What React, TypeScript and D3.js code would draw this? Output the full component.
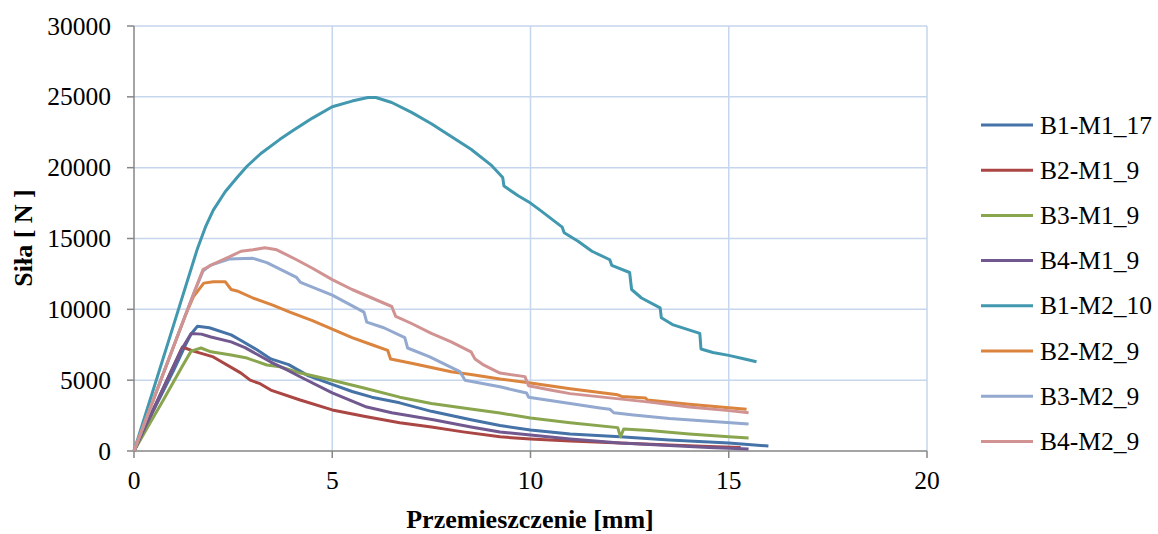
import React from "react";
import * as d3 from "d3";

type Pt = [number, number];

const seriesNames = ["B1-M1_17", "B2-M1_9", "B3-M1_9", "B4-M1_9", "B1-M2_10", "B2-M2_9", "B3-M2_9", "B4-M2_9"];
const seriesColors = ["#4572A7", "#AA4643", "#89A54E", "#71588F", "#4198AF", "#DB843D", "#93A9CF", "#D19392"];

const b1m1_17: Pt[] = [[0,0],[0.5,2900],[1.0,5700],[1.3,7500],[1.45,8300],[1.6,8800],[1.9,8700],[2.45,8200],[2.7,7800],[3.1,7150],[3.45,6500],[3.9,6100],[4.4,5300],[5.0,4700],[5.5,4200],[6.0,3800],[6.7,3400],[7.5,2800],[8.5,2200],[9.23,1800],[10,1480],[11,1200],[12.26,1000],[13.5,780],[15,560],[16,350]];
const b2m1_9: Pt[] = [[0,0],[0.5,3000],[1.0,6000],[1.22,7340],[1.5,7050],[2.0,6640],[2.7,5500],[2.93,5000],[3.18,4750],[3.45,4300],[4.19,3600],[5.0,2900],[5.8,2450],[6.7,2000],[7.5,1700],[8.3,1350],[9.23,1000],[10,850],[11,700],[12.26,560],[13.5,420],[14.5,320],[15.3,250]];
const b3m1_9: Pt[] = [[0,0],[0.4,1950],[0.74,3600],[1.2,5900],[1.44,7050],[1.69,7270],[1.94,7000],[2.45,6780],[2.85,6560],[3.35,6070],[3.68,5950],[4.2,5500],[5.0,5000],[5.8,4450],[6.7,3800],[7.5,3350],[8.4,3000],[9.23,2680],[10,2330],[11,2000],[12.2,1650],[12.27,1000],[12.35,1550],[13,1450],[14,1200],[15,1000],[15.5,920]];
const b4m1_9: Pt[] = [[0,0],[0.5,3000],[1.0,6000],[1.19,7130],[1.44,8300],[1.7,8250],[1.94,8050],[2.45,7700],[2.8,7300],[3.45,6280],[3.86,5720],[4.19,5240],[5.0,4100],[5.87,3100],[6.5,2700],[7.55,2200],[8.5,1700],[9.23,1340],[10,1130],[11,850],[12.26,560],[13.5,380],[14.5,250],[15.5,140]];
const b1m2_10: Pt[] = [[0,0],[0.5,4450],[1.0,8900],[1.59,14200],[1.8,15800],[2.0,17000],[2.3,18300],[2.6,19300],[2.85,20100],[3.2,21000],[3.68,22000],[4.0,22600],[4.5,23500],[5.0,24300],[5.5,24700],[5.9,24950],[6.1,24950],[6.5,24600],[7.0,23900],[7.5,23100],[8.0,22200],[8.5,21300],[9.0,20200],[9.3,19300],[9.33,18700],[9.7,18000],[10.0,17500],[10.24,17000],[10.8,15800],[10.85,15400],[11.2,14800],[11.55,14100],[12.0,13500],[12.05,13100],[12.5,12600],[12.55,11400],[12.8,10800],[13.27,10100],[13.3,9400],[13.6,8900],[14.27,8300],[14.3,7200],[14.6,6950],[15.0,6750],[15.4,6500],[15.7,6300]];
const b2m2_9: Pt[] = [[0,0],[0.5,3700],[1.0,7400],[1.3,9600],[1.5,10900],[1.76,11850],[2.0,11950],[2.3,11950],[2.45,11400],[2.6,11300],[3.0,10800],[3.5,10300],[3.93,9800],[4.5,9200],[5.0,8600],[5.5,8000],[6.0,7500],[6.4,7100],[6.47,6500],[7.0,6200],[7.5,5900],[8.0,5600],[8.5,5400],[9.23,5080],[10,4800],[11,4400],[12.2,3970],[12.3,3850],[12.9,3740],[12.95,3600],[14,3300],[15,3050],[15.45,2950]];
const b3m2_9: Pt[] = [[0,0],[0.5,3700],[1.0,7400],[1.51,11150],[1.74,12700],[1.92,13100],[2.4,13550],[3.0,13600],[3.35,13300],[4.1,12250],[4.2,11900],[5.0,11000],[5.8,9800],[5.87,9100],[6.3,8700],[6.83,8000],[6.9,7270],[7.46,6640],[8.0,5900],[8.22,5600],[8.35,5000],[9.23,4530],[9.9,4100],[9.95,3800],[11,3350],[11.75,3040],[12.0,2950],[12.1,2700],[12.6,2540],[13.5,2300],[14.5,2100],[15.5,1900]];
const b4m2_9: Pt[] = [[0,0],[0.5,3700],[1.0,7400],[1.51,11150],[1.74,12800],[2.0,13200],[2.4,13700],[2.7,14100],[3.0,14200],[3.3,14350],[3.6,14200],[4.1,13500],[4.5,12900],[5.0,12100],[5.5,11400],[6.0,10800],[6.5,10200],[6.6,9500],[7.0,9000],[7.5,8300],[8.0,7700],[8.5,7000],[8.6,6500],[8.8,6100],[9.23,5500],[9.86,5250],[9.95,4600],[10.5,4300],[11,4050],[12,3750],[13,3450],[14,3100],[15,2850],[15.5,2700]];

const seriesData: Pt[][] = [b1m1_17, b2m1_9, b3m1_9, b4m1_9, b1m2_10, b2m2_9, b3m2_9, b4m2_9];

const xTicks = [0, 5, 10, 15, 20];
const yTicks = [0, 5000, 10000, 15000, 20000, 25000, 30000];

const W = 1158, H = 534;
const L = 134, R = 927, T = 26, B = 451;

export default function App() {
  const x = d3.scaleLinear().domain([0, 20]).range([L, R]);
  const y = d3.scaleLinear().domain([0, 30000]).range([B, T]);
  const line = d3.line<Pt>().x(d => x(d[0])).y(d => y(d[1]));
  const font = "'Liberation Serif', 'Times New Roman', serif";
  return (
    <svg width={W} height={H} style={{ position: "absolute", left: 0, top: 0, background: "#fff" }} fontFamily={font}>
      <rect x={0} y={0} width={W} height={H} fill="#fff" />
      {yTicks.filter(t => t > 0).map(t => (
        <line key={"gy" + t} x1={L} x2={R} y1={y(t)} y2={y(t)} stroke="#c6d6ec" strokeWidth={1.5} />
      ))}
      {xTicks.filter(t => t > 0).map(t => (
        <line key={"gx" + t} x1={x(t)} x2={x(t)} y1={T} y2={B} stroke="#c6d6ec" strokeWidth={1.5} />
      ))}
      <line x1={L} x2={L} y1={T} y2={B} stroke="#868686" strokeWidth={1.5} />
      <line x1={L} x2={R} y1={B} y2={B} stroke="#868686" strokeWidth={1.5} />
      {yTicks.map(t => (
        <g key={"ty" + t}>
          <line x1={L - 7} x2={L} y1={y(t)} y2={y(t)} stroke="#868686" strokeWidth={1.5} />
          <text x={111} y={y(t) + 8.5} textAnchor="end" fontSize={25.5}>{t}</text>
        </g>
      ))}
      {xTicks.map(t => (
        <g key={"tx" + t}>
          <line x1={x(t)} x2={x(t)} y1={B} y2={B + 7} stroke="#868686" strokeWidth={1.5} />
          <text x={x(t)} y={489} textAnchor="middle" fontSize={25.5}>{t}</text>
        </g>
      ))}
      {seriesData.map((d, i) => (
        <path key={seriesNames[i]} d={line(d) || ""} fill="none" stroke={seriesColors[i]} strokeWidth={3} strokeLinejoin="round" />
      ))}
      <text x={530} y={528} textAnchor="middle" fontSize={26} fontWeight="bold">Przemieszczenie [mm]</text>
      <text transform="translate(32,238) rotate(-90)" textAnchor="middle" fontSize={26} fontWeight="bold">Siła [ N ]</text>
      {seriesNames.map((n, i) => {
        const cy = 125 + i * 45.2;
        return (
          <g key={"lg" + n}>
            <line x1={981} x2={1033} y1={cy} y2={cy} stroke={seriesColors[i]} strokeWidth={3} />
            <text x={1040} y={cy + 8.5} fontSize={25.5}>{n}</text>
          </g>
        );
      })}
    </svg>
  );
}
